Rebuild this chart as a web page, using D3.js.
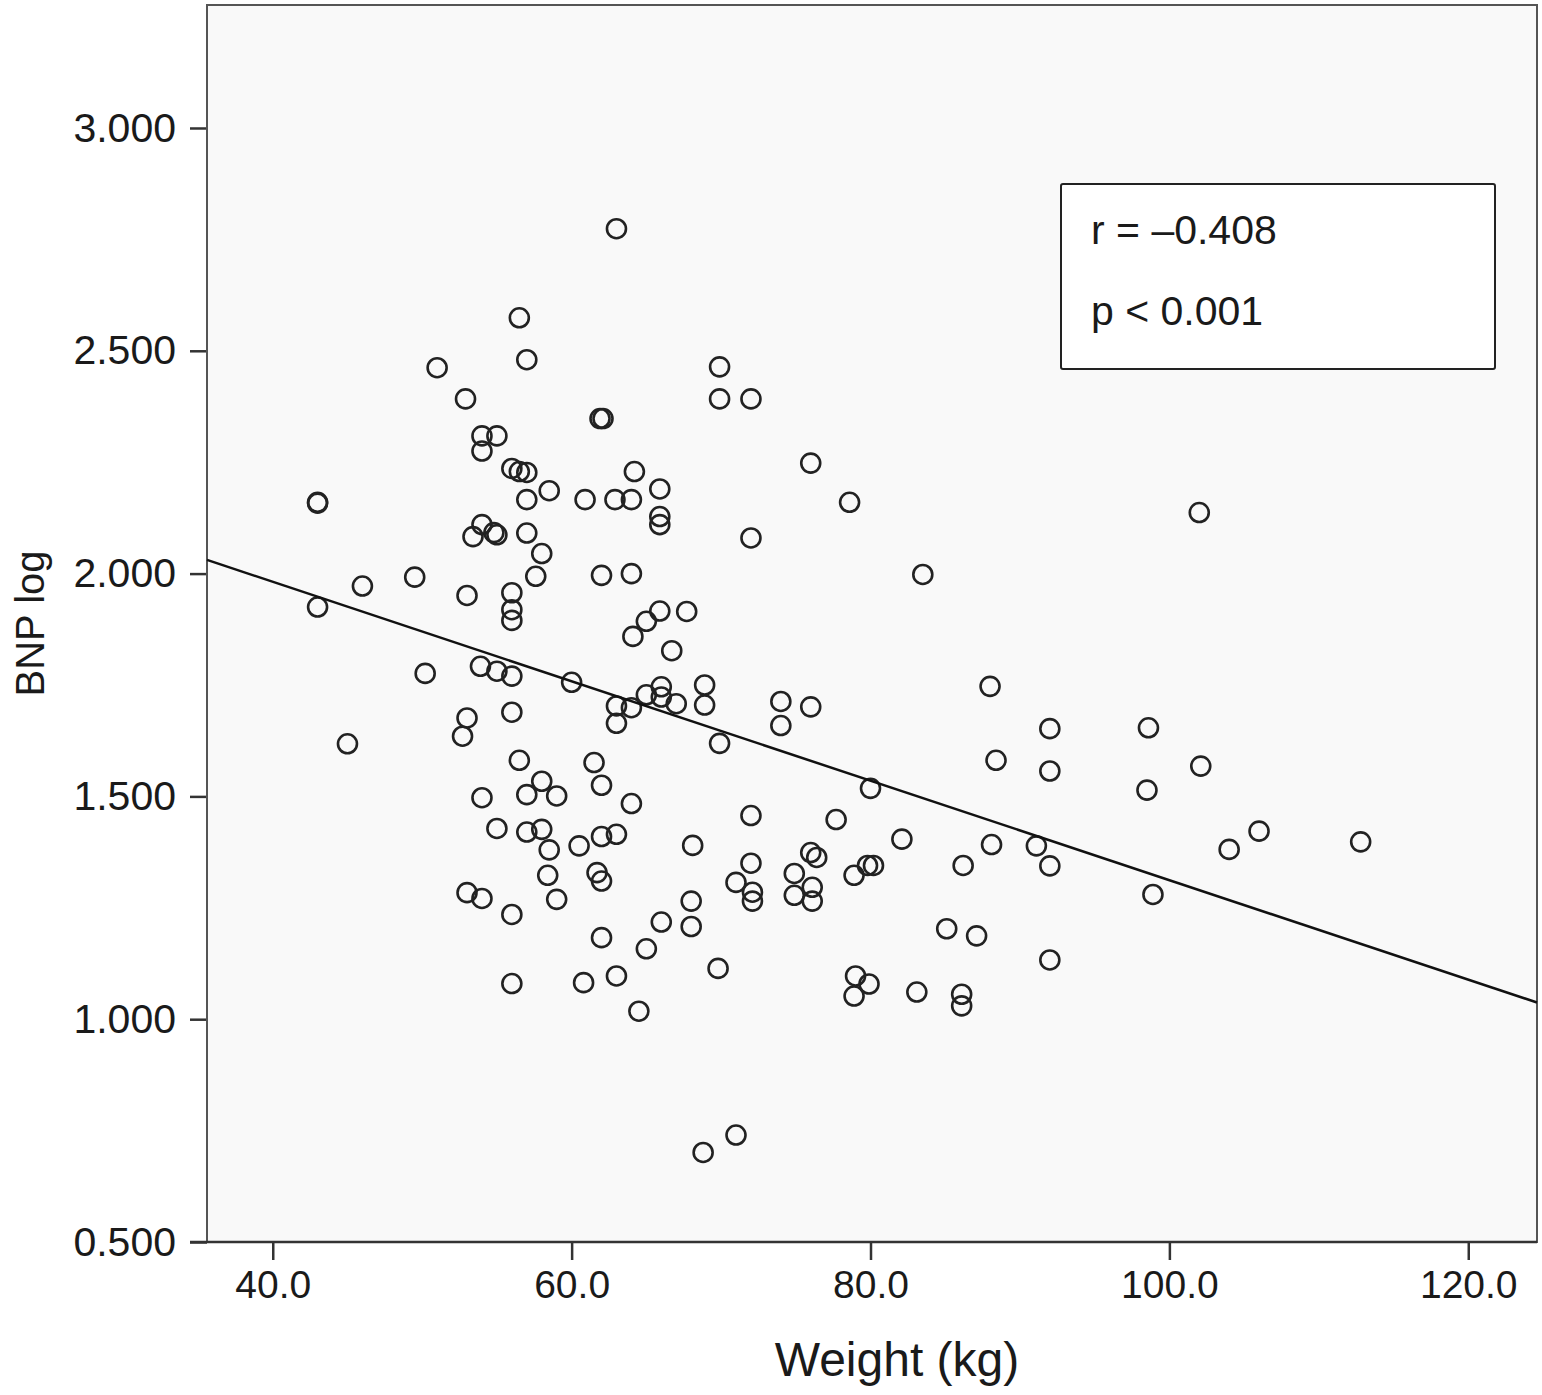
<!DOCTYPE html>
<html>
<head>
<meta charset="utf-8">
<script src="https://cdn.jsdelivr.net/npm/d3@7"></script>
<style>
  body { margin: 0; background: #fff; }
  svg text { font-family: "Liberation Sans", Arial, Helvetica, sans-serif; fill: #1a1a1a; }
</style>
</head>
<body>
<div id="chart"></div>
<script>
// data
const weight = [
  63.0, 56.5, 57.0, 51.0, 69.9, 52.9, 69.9, 72.0, 61.9, 62.1,
  54.0, 55.0, 54.0, 56.0, 56.5, 57.0, 64.2, 76.0, 65.9, 43.0,
  43.0, 57.0, 58.5, 60.9, 62.9, 64.0, 78.6, 65.9, 65.9, 102.0,
  54.0, 53.4, 54.8, 55.0, 57.0, 72.0, 58.0, 57.6, 62.0, 64.0,
  83.5, 46.0, 49.5, 53.0, 56.0, 56.0, 56.0, 43.0, 64.1, 65.0,
  65.9, 67.7, 66.7, 50.2, 53.9, 55.0, 56.0, 60.0, 63.0, 64.0,
  65.0, 66.0, 66.0, 67.0, 68.9, 68.9, 69.9, 74.0, 74.0, 76.0,
  63.0, 53.0, 52.7, 56.0, 45.0, 56.5, 61.5, 62.0, 58.0, 57.0,
  59.0, 54.0, 64.0, 55.0, 57.0, 58.0, 58.5, 60.5, 62.0, 63.0,
  58.4, 61.7, 62.0, 53.0, 54.0, 59.0, 56.0, 66.0, 62.0, 65.0,
  56.0, 60.8, 63.0, 64.5, 68.0, 69.8, 79.0, 79.9, 78.9, 83.1,
  86.1, 86.1, 85.1, 87.1, 71.0, 68.8, 92.0, 92.0, 92.0, 98.6,
  98.5, 102.1, 106.0, 104.0, 112.8, 98.9, 91.1, 92.0, 88.0, 88.4,
  80.0, 77.7, 82.1, 88.1, 86.2, 78.9, 79.8, 80.2, 72.0, 68.1,
  72.0, 71.0, 72.1, 72.1, 76.0, 76.4, 74.9, 76.1, 74.9, 76.1,
  68.0
];
const bnpLog = [
  2.774, 2.574, 2.480, 2.462, 2.464, 2.392, 2.392, 2.392, 2.348, 2.348,
  2.309, 2.309, 2.275, 2.236, 2.229, 2.227, 2.229, 2.248, 2.190, 2.160,
  2.158, 2.166, 2.186, 2.166, 2.166, 2.166, 2.160, 2.128, 2.110, 2.137,
  2.110, 2.083, 2.092, 2.087, 2.091, 2.080, 2.045, 1.994, 1.996, 2.000,
  1.998, 1.972, 1.992, 1.951, 1.957, 1.919, 1.895, 1.925, 1.859, 1.893,
  1.916, 1.915, 1.827, 1.776, 1.792, 1.781, 1.770, 1.756, 1.703, 1.699,
  1.728, 1.746, 1.723, 1.708, 1.750, 1.705, 1.619, 1.713, 1.659, 1.701,
  1.664, 1.676, 1.635, 1.689, 1.618, 1.581, 1.576, 1.525, 1.534, 1.504,
  1.501, 1.497, 1.484, 1.428, 1.420, 1.426, 1.380, 1.389, 1.410, 1.415,
  1.323, 1.329, 1.310, 1.284, 1.271, 1.269, 1.235, 1.218, 1.183, 1.158,
  1.080, 1.082, 1.097, 1.018, 1.208, 1.114, 1.097, 1.079, 1.052, 1.061,
  1.056, 1.030, 1.203, 1.187, 0.740, 0.701, 1.133, 1.652, 1.557, 1.654,
  1.514, 1.568, 1.422, 1.381, 1.398, 1.280, 1.389, 1.344, 1.747, 1.581,
  1.518, 1.448, 1.404, 1.392, 1.345, 1.323, 1.345, 1.345, 1.457, 1.390,
  1.350, 1.307, 1.285, 1.265, 1.374, 1.363, 1.327, 1.296, 1.278, 1.265,
  1.265
];
const xTicks = [40, 60, 80, 100, 120];
const yTicks = [0.5, 1.0, 1.5, 2.0, 2.5, 3.0];
// fit line as drawn in the figure
const fitIntercept = 2.428;
const fitSlope = -0.01116;
const statLines = ['r = \u20130.408', 'p < 0.001'];

const width = 1542, height = 1395;
const margin = {top: 5, right: 5, bottom: 153, left: 207};
const innerW = width - margin.left - margin.right;
const innerH = height - margin.top - margin.bottom;

const svg = d3.select('#chart').append('svg')
    .attr('width', width)
    .attr('height', height);

const g = svg.append('g')
    .attr('transform', `translate(${margin.left},${margin.top})`);

const x = d3.scaleLinear().domain([35.6, 124.6]).range([0, innerW]);
const y = d3.scaleLinear().domain([0.5, 3.276]).range([innerH, 0]);

// plot background
g.append('rect')
    .attr('width', innerW)
    .attr('height', innerH)
    .attr('fill', '#f9f9f9');

// axes
const yAxis = g.append('g')
    .call(d3.axisLeft(y).tickValues(yTicks).tickFormat(d3.format('.3f'))
        .tickSize(17).tickPadding(14));
const xAxis = g.append('g')
    .attr('transform', `translate(0,${innerH})`)
    .call(d3.axisBottom(x).tickValues(xTicks).tickFormat(d3.format('.1f'))
        .tickSize(18).tickPadding(10));

[yAxis, xAxis].forEach(a => {
    a.select('.domain').remove();
    a.selectAll('.tick line').attr('stroke', '#333').attr('stroke-width', 2.5);
    a.selectAll('.tick text').attr('fill', '#1a1a1a');
});
yAxis.selectAll('.tick text').attr('font-size', 41);
xAxis.selectAll('.tick text').attr('font-size', 39);

// frame
g.append('rect')
    .attr('width', innerW)
    .attr('height', innerH)
    .attr('fill', 'none')
    .attr('stroke', '#555')
    .attr('stroke-width', 2);
g.append('line')
    .attr('x1', -17).attr('x2', innerW)
    .attr('y1', innerH).attr('y2', innerH)
    .attr('stroke', '#333')
    .attr('stroke-width', 2.5);

// points
const points = d3.zip(weight, bnpLog);
g.append('g')
    .selectAll('circle')
    .data(points)
    .join('circle')
    .attr('cx', d => x(d[0]))
    .attr('cy', d => y(d[1]))
    .attr('r', 9.5)
    .attr('fill', 'none')
    .attr('stroke', '#222')
    .attr('stroke-width', 2.6);

// fit line across the plot
const xd = x.domain();
g.append('line')
    .attr('x1', x(xd[0])).attr('y1', y(fitIntercept + fitSlope * xd[0]))
    .attr('x2', x(xd[1])).attr('y2', y(fitIntercept + fitSlope * xd[1]))
    .attr('stroke', '#111')
    .attr('stroke-width', 2.5);

// stats box
const box = g.append('g')
    .attr('transform', `translate(${1061 - margin.left},${184 - margin.top})`);
box.append('rect')
    .attr('width', 434)
    .attr('height', 185)
    .attr('rx', 2)
    .attr('fill', '#fff')
    .attr('stroke', '#222')
    .attr('stroke-width', 2);
box.selectAll('text.stat')
    .data(statLines)
    .join('text')
    .classed('stat', true)
    .attr('x', 30)
    .attr('y', (d, i) => 60 + i * 81)
    .attr('font-size', 41)
    .text(d => d);

// axis titles
svg.append('text')
    .attr('x', 897)
    .attr('y', 1376)
    .attr('text-anchor', 'middle')
    .attr('font-size', 48)
    .text('Weight (kg)');
svg.append('text')
    .attr('transform', `translate(44,${margin.top + y(1.888)}) rotate(-90)`)
    .attr('text-anchor', 'middle')
    .attr('font-size', 40)
    .text('BNP log');
</script>
</body>
</html>
